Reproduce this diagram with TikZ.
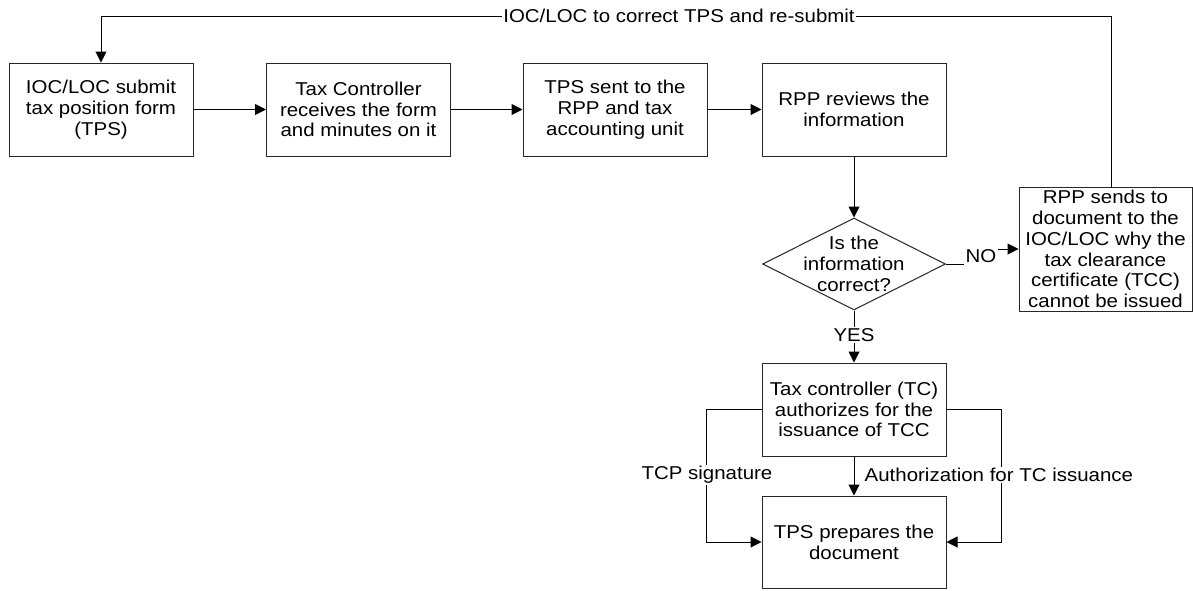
\documentclass[tikz,border=0pt]{standalone}
\usepackage{fontspec}
\setmainfont[FakeStretch=1.1]{Liberation Sans}
\usetikzlibrary{arrows.meta,shapes.geometric}
\begin{document}
\begin{tikzpicture}[x=1pt,y=-1pt,
  every node/.style={font=\fontsize{18.6}{20.8}\selectfont},
  box/.style={draw=black!85, line width=1pt, fill=white, align=center,
    minimum width=184pt, minimum height=93pt, inner sep=1pt},
  dia/.style={draw=black!85, line width=1pt, fill=white, shape=diamond,
    minimum width=183pt, minimum height=92pt, inner sep=0pt},
  arr/.style={draw=black, line width=1pt, -{Triangle[length=11pt,width=11pt]}},
  lbl/.style={fill=white, inner sep=1.5pt}]
  \useasboundingbox (0,0) rectangle (1193,590);

  % process steps along the top row
  \node[box] (b1) at (101,109.5) {IOC/LOC submit\\tax position form\\(TPS)};
  \node[box] (b2) at (358.5,109.5) {Tax Controller\\receives the form\\and minutes on it};
  \node[box] (b3) at (615,109.5) {TPS sent to the\\RPP and tax\\accounting unit};
  \node[box] (b4) at (854,109.5) {RPP reviews the\\information};

  % decision
  \node[dia] (d) at (854,264) {};
  \node[align=center, inner sep=0pt] (dt) at (d.center) {Is the\\information\\correct?};

  % rejection path
  \node[box, minimum width=173pt, minimum height=124pt] (b5) at (1105.5,249)
    {RPP sends to\\document to the\\IOC/LOC why the\\tax clearance\\certificate (TCC)\\cannot be issued};

  % approval path
  \node[box] (tc) at (854,409.5) {Tax controller (TC)\\authorizes for the\\issuance of TCC};
  \node[box, minimum height=92pt] (tp) at (854,542) {TPS prepares the\\document};

  % connectors
  \draw[arr] (b1) -- (b2);
  \draw[arr] (b2) -- (b3);
  \draw[arr] (b3) -- (b4);
  \draw[arr] (b4) -- (d);

  \coordinate (nx1) at (981,264);
  \coordinate (nx2) at (981,249);
  \draw[arr] (d.east) -- (nx1) -- (nx2) -- (b5.west);
  \node[lbl] (no) at (981,256.5) {NO};

  \coordinate (rt) at (1111,16);
  \coordinate (lt) at (101,16);
  \draw[arr] (b5.north -| rt) -- (rt) -- (lt) -- (b1.north);
  \node[lbl] (loop) at (679,16) {IOC/LOC to correct TPS and re-submit};

  \draw[arr] (d.south) -- (tc.north);
  \node[lbl] (yes) at (854,335) {YES};

  \draw[arr] (tc.south) -- (tp.north);
  \draw[arr] (tc.west) -- ++(-55,0) |- (tp.west);
  \draw[arr] (tc.east) -- ++(55,0) |- (tp.east);
  \node[lbl] (sig) at (707,475) {TCP signature};
  \node[lbl, anchor=west] (auth) at (863,475) {Authorization for TC issuance};
\end{tikzpicture}
\end{document}
